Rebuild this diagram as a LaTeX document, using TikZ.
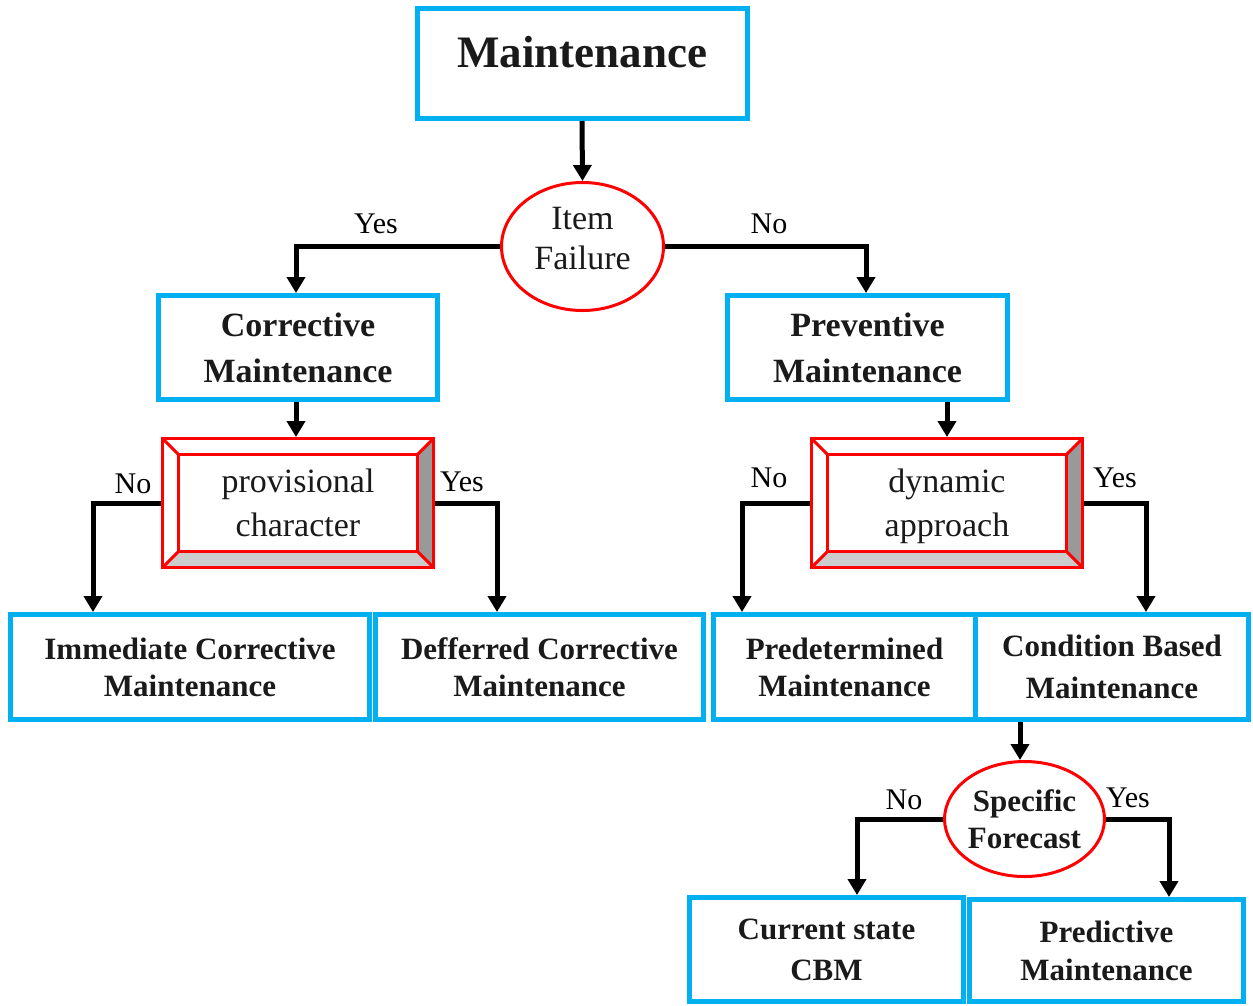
\documentclass[tikz,border=0pt]{standalone}
\usepackage{fontspec}
\setmainfont{Liberation Serif}
\usetikzlibrary{arrows.meta,shapes.geometric}
\definecolor{boxcyan}{HTML}{00B0F0}
\definecolor{redline}{HTML}{FF0000}
\definecolor{bevdark}{HTML}{999999}
\definecolor{bevlight}{HTML}{CCCCCC}
\definecolor{txt}{HTML}{1A1A1A}
\begin{document}
\begin{tikzpicture}[x=1pt,y=-1pt,
  cbox/.style={draw=boxcyan, line width=5pt, fill=white, inner sep=0pt, align=center, text=txt},
  bigfont/.style={font=\fontsize{45}{50}\selectfont\bfseries},
  midfont/.style={font=\fontsize{34}{46}\selectfont\bfseries},
  smallfont/.style={font=\fontsize{31}{37}\selectfont\bfseries},
  decision/.style={ellipse, draw=redline, line width=3pt, fill=white, inner sep=0pt, align=center, text=txt},
  bevelbox/.style={draw=redline, line width=3pt, fill=white, inner sep=0pt, align=center, text=txt,
    minimum width=271pt, minimum height=129pt,
    font=\fontsize{34}{44}\selectfont,
    path picture={
      \fill[bevdark] (path picture bounding box.north east)
        -- ([shift={(-16pt,-16pt)}]path picture bounding box.north east)
        -- ([shift={(-16pt,16pt)}]path picture bounding box.south east)
        -- (path picture bounding box.south east) -- cycle;
      \fill[bevlight] (path picture bounding box.south west)
        -- ([shift={(16pt,16pt)}]path picture bounding box.south west)
        -- ([shift={(-16pt,16pt)}]path picture bounding box.south east)
        -- (path picture bounding box.south east) -- cycle;
      \draw[redline, line width=3pt]
        ([shift={(16pt,16pt)}]path picture bounding box.south west)
        rectangle ([shift={(-16pt,-16pt)}]path picture bounding box.north east);
      \draw[redline, line width=3pt]
        (path picture bounding box.north west) -- ([shift={(16pt,-16pt)}]path picture bounding box.north west)
        (path picture bounding box.north east) -- ([shift={(-16pt,-16pt)}]path picture bounding box.north east)
        (path picture bounding box.south west) -- ([shift={(16pt,16pt)}]path picture bounding box.south west)
        (path picture bounding box.south east) -- ([shift={(-16pt,16pt)}]path picture bounding box.south east);
    }},
  arr/.style={line width=5pt, -{Triangle[width=18pt,length=16pt]}, black},
  lbl/.style={font=\fontsize{30}{34}\selectfont, text=black, inner sep=0pt}
]
\useasboundingbox (0,0) rectangle (1253,1005);

% top
\node[cbox, bigfont, minimum width=330pt, minimum height=110pt, text depth=23pt] (m) at (582,63.5) {Maintenance};
\node[decision, minimum width=162pt, minimum height=128pt, font=\fontsize{34}{40}\selectfont, text depth=16pt] (if) at (582.5,246.5) {Item\\Failure};

% level 2
\node[cbox, midfont, minimum width=279pt, minimum height=104pt] (cm) at (298,347.5) {Corrective\\Maintenance};
\node[cbox, midfont, minimum width=280pt, minimum height=104pt] (pm) at (867.5,347.5) {Preventive\\Maintenance};

% bevel boxes
\node[bevelbox] (pc) at (298,503) {provisional\\character};
\node[bevelbox, text depth=0pt] (da) at (947,503) {dynamic\\approach};

% bottom row
\node[cbox, smallfont, minimum width=359pt, minimum height=105pt] (im) at (190,667) {Immediate Corrective\\Maintenance};
\node[cbox, smallfont, minimum width=328pt, minimum height=105pt] (dc) at (539.5,667) {Defferred Corrective\\Maintenance};
\node[cbox, smallfont, minimum width=262pt, minimum height=105pt] (pd) at (844.5,667) {Predetermined\\Maintenance};
\node[cbox, font=\fontsize{31}{42}\selectfont\bfseries, minimum width=273pt, minimum height=105pt] (cb) at (1112,667) {Condition Based\\Maintenance};

% forecast
\node[decision, minimum width=156pt, minimum height=115pt, smallfont] (sf) at (1024.5,819) {Specific\\Forecast};
\node[cbox, font=\fontsize{31}{41}\selectfont\bfseries, minimum width=274pt, minimum height=104pt] (cs) at (826.5,949.5) {Current state\\CBM};
\node[cbox, font=\fontsize{31}{38}\selectfont\bfseries, minimum width=274pt, minimum height=102pt] (pr) at (1106.5,950.5) {Predictive\\Maintenance};

% connectors
\draw[arr] (m.south) -- (if.north);
\draw[arr] (if.west) -| ([xshift=-2pt]cm.north);
\draw[arr] (if.east) -| ([xshift=-1.5pt]pm.north);
\draw[arr] ([xshift=-2pt]cm.south) -- ([xshift=-2pt]pc.north);
\draw[arr] (pm.south -| da.north) -- (da.north);
\draw[arr] (pc.west) -| ([xshift=-97pt]im.north);
\draw[arr] (pc.east) -| ([xshift=-42.5pt]dc.north);
\draw[arr] (da.west) -| ([xshift=-102.5pt]pd.north);
\draw[arr] (da.east) -| ([xshift=34pt]cb.north);
\draw[arr] ([xshift=-4.5pt]sf.north |- cb.south) -- ([xshift=-4.5pt]sf.north);
\draw[arr] (sf.west) -| ([xshift=30.5pt]cs.north);
\draw[arr] (sf.east) -| ([xshift=62.5pt]pr.north);

% labels
\node[lbl] (l1) at (376,224) {Yes};
\node[lbl] (l2) at (769,224) {No};
\node[lbl] (l3) at (133,484) {No};
\node[lbl] (l4) at (462,482) {Yes};
\node[lbl] (l5) at (769,478) {No};
\node[lbl] (l6) at (1115,478) {Yes};
\node[lbl] (l7) at (904,800) {No};
\node[lbl] (l8) at (1128,798) {Yes};
\end{tikzpicture}
\end{document}
